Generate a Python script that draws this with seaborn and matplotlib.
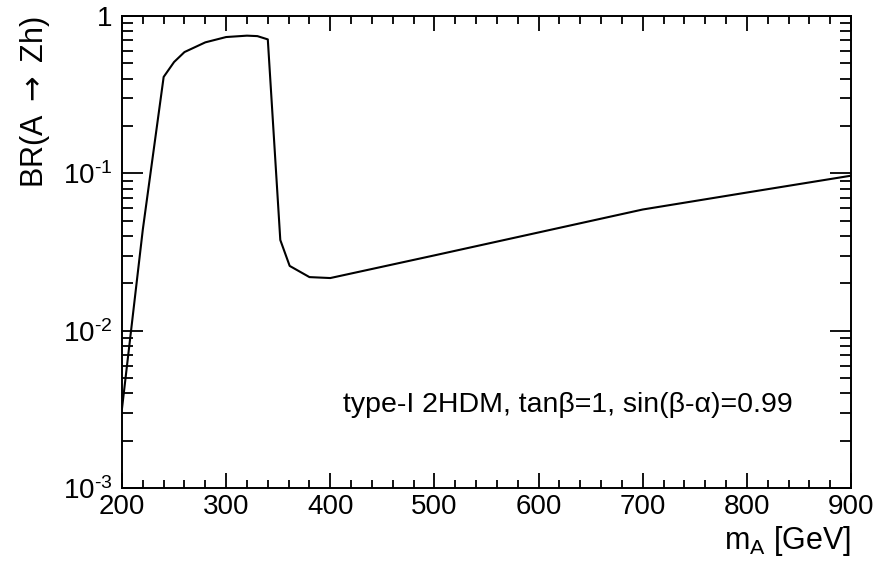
import matplotlib
matplotlib.use("Agg")
import matplotlib.pyplot as plt
from matplotlib.ticker import FixedLocator, MultipleLocator, LogLocator, NullFormatter
import numpy as np
import pandas as pd
import seaborn as sns

# BR(A -> Zh) versus m_A, type-I 2HDM
m_A = [200, 220, 240, 250, 260, 280, 300, 320, 330, 340,
       352, 361, 380, 400, 500, 600, 700, 800, 900]
br_Zh = [0.0032, 0.044, 0.41, 0.51, 0.59, 0.68, 0.735, 0.75, 0.745, 0.71,
         0.0377, 0.0258, 0.0219, 0.0216, 0.0301, 0.0421, 0.0589, 0.0755, 0.0966]

y_ticks = [1e-3, 1e-2, 1e-1, 1]
y_tick_labels = [r"$10^{\text{-}3}$", r"$10^{\text{-}2}$", r"$10^{\text{-}1}$", "1"]
x_ticks = [200, 300, 400, 500, 600, 700, 800, 900]

sns.set_theme(style="ticks")
plt.rcParams["font.family"] = ["Liberation Sans", "DejaVu Sans"]
plt.rcParams["mathtext.fontset"] = "custom"
plt.rcParams["mathtext.rm"] = "Liberation Sans"
plt.rcParams["mathtext.it"] = "Liberation Sans"
plt.rcParams["mathtext.sf"] = "DejaVu Sans"
plt.rcParams["mathtext.default"] = "regular"

df = pd.DataFrame({"m_A": m_A, "BR": br_Zh})

fig = plt.figure(figsize=(8.88, 5.63), dpi=100)
ax = fig.add_axes([122 / 888, 1 - 488 / 563, (851 - 122) / 888, (488 - 16) / 563])

sns.lineplot(data=df, x="m_A", y="BR", ax=ax, color="black", linewidth=1.5,
             sort=False, estimator=None)

ax.set_yscale("log")
ax.set_xlim(200, 900)
ax.set_ylim(1e-3, 1)

ax.xaxis.set_major_locator(FixedLocator(x_ticks))
ax.xaxis.set_minor_locator(MultipleLocator(20))
ax.set_xticklabels([str(t) for t in x_ticks])
ax.yaxis.set_major_locator(FixedLocator(y_ticks))
ax.set_yticklabels(y_tick_labels)
ax.yaxis.set_minor_locator(LogLocator(base=10, subs=np.arange(2, 10), numticks=20))
ax.yaxis.set_minor_formatter(NullFormatter())

for s in ax.spines.values():
    s.set_linewidth(1.4)
    s.set_color("black")

ax.tick_params(which="both", direction="in", top=True, right=True,
               width=1.3, color="black", labelsize=20, labelcolor="black")
ax.tick_params(axis="x", which="major", length=11, pad=4)
ax.tick_params(axis="x", which="minor", length=6)
ax.tick_params(axis="y", which="major", length=15, pad=7)
ax.tick_params(axis="y", which="minor", length=8)

ax.set_xlabel(r"m$_{A}$ [GeV]", fontsize=22, loc="right", labelpad=3, color="black")
ax.set_ylabel(r"BR(A $\mathsf{\rightarrow}$ Zh)", fontsize=22, loc="top",
              labelpad=8, color="black")

ax.text((343 - 122) / (851 - 122), (488 - 412) / (488 - 16),
        "type-I 2HDM, tan\u03b2=1, sin(\u03b2-\u03b1)=0.99",
        transform=ax.transAxes, fontsize=20.5, color="black", ha="left", va="baseline")

ax.grid(False)
fig.savefig("out.png", dpi=100)
